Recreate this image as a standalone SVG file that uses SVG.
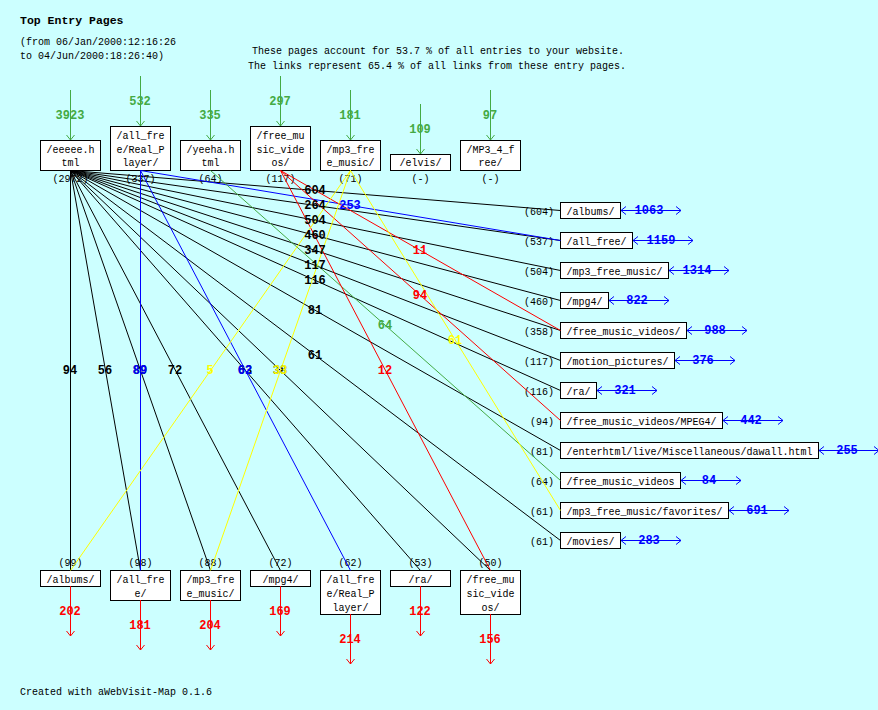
<svg xmlns="http://www.w3.org/2000/svg" width="878" height="710" viewBox="0 0 878 710">
<style>
text{font-family:"Liberation Mono","DejaVu Sans Mono",monospace;font-size:10px;fill:#000}
.t{font-size:11.5px;font-weight:bold}
.c{text-anchor:middle}
.e{text-anchor:end}
.b{font-size:12px;font-weight:bold;text-anchor:middle}
.box{fill:#fff;stroke:#000;stroke-width:1}
.ln{fill:none;stroke-width:1}
.k{stroke:#000}.bl{stroke:#0000ff}.g{stroke:#44aa44}.r{stroke:#ff0000}.y{stroke:#ffff00}
.fk{fill:#000}.fb{fill:#0000ff}.fg{fill:#44aa44}.fr{fill:#ff0000}.fy{fill:#ffff00}
</style>
<rect x="0" y="0" width="878" height="710" fill="#ccffff"/>
<text class="t" x="20" y="24">Top Entry Pages</text>
<text x="20" y="45">(from 06/Jan/2000:12:16:26</text>
<text x="20" y="59">to 04/Jun/2000:18:26:40)</text>
<text class="c" x="438" y="54">These pages account for 53.7 % of all entries to your website.</text>
<text class="c" x="437" y="69">The links represent 65.4 % of all links from these entry pages.</text>
<text x="20" y="695">Created with aWebVisit-Map 0.1.6</text>

<!-- top entry nodes -->
<g id="top-eeeee"><rect class="box" x="40.5" y="140.5" width="60" height="30"/><text class="c" x="70.5" y="153">/eeeee.h</text><text class="c" x="70.5" y="166">tml</text><text class="c" x="70.5" y="182">(2972)</text></g>
<g id="top-allfree-realplayer"><rect class="box" x="110.5" y="126.5" width="60" height="44"/><text class="c" x="140.5" y="139">/all_fre</text><text class="c" x="140.5" y="153">e/Real_P</text><text class="c" x="140.5" y="166">layer/</text><text class="c" x="140.5" y="182">(337)</text></g>
<g id="top-yeeha"><rect class="box" x="180.5" y="140.5" width="60" height="30"/><text class="c" x="210.5" y="153">/yeeha.h</text><text class="c" x="210.5" y="166">tml</text><text class="c" x="210.5" y="182">(64)</text></g>
<g id="top-freemusicvideos"><rect class="box" x="250.5" y="126.5" width="60" height="44"/><text class="c" x="280.5" y="139">/free_mu</text><text class="c" x="280.5" y="153">sic_vide</text><text class="c" x="280.5" y="166">os/</text><text class="c" x="280.5" y="182">(117)</text></g>
<g id="top-mp3freemusic"><rect class="box" x="320.5" y="140.5" width="60" height="30"/><text class="c" x="350.5" y="153">/mp3_fre</text><text class="c" x="350.5" y="166">e_music/</text><text class="c" x="350.5" y="182">(71)</text></g>
<g id="top-elvis"><rect class="box" x="390.5" y="154.5" width="60" height="16"/><text class="c" x="420.5" y="166">/elvis/</text><text class="c" x="420.5" y="182">(-)</text></g>
<g id="top-mp34free"><rect class="box" x="460.5" y="140.5" width="60" height="30"/><text class="c" x="490.5" y="153">/MP3_4_f</text><text class="c" x="490.5" y="166">ree/</text><text class="c" x="490.5" y="182">(-)</text></g>

<!-- right nodes -->
<g id="r-albums"><text class="e" x="554" y="214.5">(604)</text><rect class="box" x="560.5" y="202.5" width="60" height="16"/><text x="566.5" y="214.5">/albums/</text></g>
<g id="r-allfree"><text class="e" x="554" y="244.5">(537)</text><rect class="box" x="560.5" y="232.5" width="72" height="16"/><text x="566.5" y="244.5">/all_free/</text></g>
<g id="r-mp3freemusic"><text class="e" x="554" y="274.5">(504)</text><rect class="box" x="560.5" y="262.5" width="108" height="16"/><text x="566.5" y="274.5">/mp3_free_music/</text></g>
<g id="r-mpg4"><text class="e" x="554" y="304.5">(460)</text><rect class="box" x="560.5" y="292.5" width="48" height="16"/><text x="566.5" y="304.5">/mpg4/</text></g>
<g id="r-freemusicvideos"><text class="e" x="554" y="334.5">(358)</text><rect class="box" x="560.5" y="322.5" width="126" height="16"/><text x="566.5" y="334.5">/free_music_videos/</text></g>
<g id="r-motionpictures"><text class="e" x="554" y="364.5">(117)</text><rect class="box" x="560.5" y="352.5" width="114" height="16"/><text x="566.5" y="364.5">/motion_pictures/</text></g>
<g id="r-ra"><text class="e" x="554" y="394.5">(116)</text><rect class="box" x="560.5" y="382.5" width="36" height="16"/><text x="566.5" y="394.5">/ra/</text></g>
<g id="r-mpeg4"><text class="e" x="554" y="424.5">(94)</text><rect class="box" x="560.5" y="412.5" width="162" height="16"/><text x="566.5" y="424.5">/free_music_videos/MPEG4/</text></g>
<g id="r-dawall"><text class="e" x="554" y="454.5">(81)</text><rect class="box" x="560.5" y="442.5" width="258" height="16"/><text x="566.5" y="454.5">/enterhtml/live/Miscellaneous/dawall.html</text></g>
<g id="r-freemusicvideos2"><text class="e" x="554" y="484.5">(64)</text><rect class="box" x="560.5" y="472.5" width="120" height="16"/><text x="566.5" y="484.5">/free_music_videos</text></g>
<g id="r-favorites"><text class="e" x="554" y="514.5">(61)</text><rect class="box" x="560.5" y="502.5" width="168" height="16"/><text x="566.5" y="514.5">/mp3_free_music/favorites/</text></g>
<g id="r-movies"><text class="e" x="554" y="544.5">(61)</text><rect class="box" x="560.5" y="532.5" width="60" height="16"/><text x="566.5" y="544.5">/movies/</text></g>

<!-- bottom nodes -->
<g id="b-albums"><text class="c" x="70.5" y="566">(99)</text><rect class="box" x="40.5" y="570.5" width="60" height="16"/><text class="c" x="70.5" y="583">/albums/</text></g>
<g id="b-allfree"><text class="c" x="140.5" y="566">(98)</text><rect class="box" x="110.5" y="570.5" width="60" height="30"/><text class="c" x="140.5" y="583">/all_fre</text><text class="c" x="140.5" y="597">e/</text></g>
<g id="b-mp3freemusic"><text class="c" x="210.5" y="566">(88)</text><rect class="box" x="180.5" y="570.5" width="60" height="30"/><text class="c" x="210.5" y="583">/mp3_fre</text><text class="c" x="210.5" y="597">e_music/</text></g>
<g id="b-mpg4"><text class="c" x="280.5" y="566">(72)</text><rect class="box" x="250.5" y="570.5" width="60" height="16"/><text class="c" x="280.5" y="583">/mpg4/</text></g>
<g id="b-allfree-realplayer"><text class="c" x="350.5" y="566">(62)</text><rect class="box" x="320.5" y="570.5" width="60" height="44"/><text class="c" x="350.5" y="583">/all_fre</text><text class="c" x="350.5" y="597">e/Real_P</text><text class="c" x="350.5" y="611">layer/</text></g>
<g id="b-ra"><text class="c" x="420.5" y="566">(53)</text><rect class="box" x="390.5" y="570.5" width="60" height="16"/><text class="c" x="420.5" y="583">/ra/</text></g>
<g id="b-freemusicvideos"><text class="c" x="490.5" y="566">(50)</text><rect class="box" x="460.5" y="570.5" width="60" height="44"/><text class="c" x="490.5" y="583">/free_mu</text><text class="c" x="490.5" y="597">sic_vide</text><text class="c" x="490.5" y="611">os/</text></g>

<!-- connectors -->
<g id="connectors">
<g class="ln k">
<path d="M70.5,170.5L560.5,210.5M70.5,170.5L560.5,240.5M70.5,170.5L560.5,270.5M70.5,170.5L560.5,300.5M70.5,170.5L560.5,330.5M70.5,170.5L560.5,360.5M70.5,170.5L560.5,390.5M70.5,170.5L560.5,450.5M70.5,170.5L560.5,540.5"/>
<path d="M70.5,170.5L70.5,570.5M70.5,170.5L140.5,570.5M70.5,170.5L210.5,570.5M70.5,170.5L280.5,570.5M70.5,170.5L420.5,570.5M70.5,170.5L490.5,570.5"/>
</g>
<path class="ln bl" d="M140.5,170.5L560.5,240.5M140.5,170.5L140.5,570.5M140.5,170.5L350.5,570.5"/>
<path class="ln g" d="M210.5,170.5L560.5,480.5"/>
<path class="ln r" d="M280.5,170.5L560.5,330.5M280.5,170.5L560.5,420.5M280.5,170.5L490.5,570.5"/>
<path class="ln y" d="M350.5,170.5L70.5,570.5M350.5,170.5L210.5,570.5M350.5,170.5L560.5,510.5"/>

<!-- link labels -->
<g>
<text class="b fk" x="315" y="194">604</text>
<text class="b fk" x="315" y="209">264</text>
<text class="b fk" x="315" y="224">504</text>
<text class="b fk" x="315" y="239">460</text>
<text class="b fk" x="315" y="254">347</text>
<text class="b fk" x="315" y="269">117</text>
<text class="b fk" x="315" y="284">116</text>
<text class="b fk" x="315" y="314">81</text>
<text class="b fk" x="315" y="359">61</text>
<text class="b fk" x="70" y="374">94</text>
<text class="b fk" x="105" y="374">56</text>
<text class="b fk" x="140" y="374">89</text>
<text class="b fk" x="175" y="374">72</text>
<text class="b fk" x="245" y="374">63</text>
<text class="b fk" x="280" y="374">38</text>
<text class="b fb" x="350" y="209">253</text>
<text class="b fb" x="140" y="374">89</text>
<text class="b fb" x="245" y="374">62</text>
<text class="b fg" x="385" y="329">64</text>
<text class="b fr" x="420" y="254">11</text>
<text class="b fr" x="420" y="299">94</text>
<text class="b fr" x="385" y="374">12</text>
<text class="b fy" x="210" y="374">5</text>
<text class="b fy" x="280" y="374">33</text>
<text class="b fy" x="455" y="344">61</text>
</g>

<!-- entry arrows (green) -->
<path class="ln g" d="M70.5,90L70.5,140M66.5,135L70.5,140L74.5,135 M140.5,76L140.5,126M136.5,121L140.5,126L144.5,121 M210.5,90L210.5,140M206.5,135L210.5,140L214.5,135 M280.5,76L280.5,126M276.5,121L280.5,126L284.5,121 M350.5,90L350.5,140M346.5,135L350.5,140L354.5,135 M420.5,104L420.5,154M416.5,149L420.5,154L424.5,149 M490.5,90L490.5,140M486.5,135L490.5,140L494.5,135"/>
<text class="b fg" x="70" y="119">3923</text>
<text class="b fg" x="140" y="105">532</text>
<text class="b fg" x="210" y="119">335</text>
<text class="b fg" x="280" y="105">297</text>
<text class="b fg" x="350" y="119">181</text>
<text class="b fg" x="420" y="133">109</text>
<text class="b fg" x="490" y="119">97</text>

<!-- exit arrows (red) -->
<path class="ln r" d="M70.5,586L70.5,636M66.5,631L70.5,636L74.5,631 M140.5,600L140.5,650M136.5,645L140.5,650L144.5,645 M210.5,600L210.5,650M206.5,645L210.5,650L214.5,645 M280.5,586L280.5,636M276.5,631L280.5,636L284.5,631 M350.5,614L350.5,664M346.5,659L350.5,664L354.5,659 M420.5,586L420.5,636M416.5,631L420.5,636L424.5,631 M490.5,614L490.5,664M486.5,659L490.5,664L494.5,659"/>
<text class="b fr" x="70" y="615">202</text>
<text class="b fr" x="140" y="629">181</text>
<text class="b fr" x="210" y="629">204</text>
<text class="b fr" x="280" y="615">169</text>
<text class="b fr" x="350" y="643">214</text>
<text class="b fr" x="420" y="615">122</text>
<text class="b fr" x="490" y="643">156</text>

<!-- outgoing arrows (blue) -->
<path class="ln bl" d="M621,210.5L681,210.5M626,206.5L621,210.5L626,214.5M676,206.5L681,210.5L676,214.5 M633,240.5L693,240.5M638,236.5L633,240.5L638,244.5M688,236.5L693,240.5L688,244.5 M669,270.5L729,270.5M674,266.5L669,270.5L674,274.5M724,266.5L729,270.5L724,274.5 M609,300.5L669,300.5M614,296.5L609,300.5L614,304.5M664,296.5L669,300.5L664,304.5 M687,330.5L747,330.5M692,326.5L687,330.5L692,334.5M742,326.5L747,330.5L742,334.5 M675,360.5L735,360.5M680,356.5L675,360.5L680,364.5M730,356.5L735,360.5L730,364.5 M597,390.5L657,390.5M602,386.5L597,390.5L602,394.5M652,386.5L657,390.5L652,394.5 M723,420.5L783,420.5M728,416.5L723,420.5L728,424.5M778,416.5L783,420.5L778,424.5 M819,450.5L879,450.5M824,446.5L819,450.5L824,454.5M874,446.5L879,450.5L874,454.5 M681,480.5L741,480.5M686,476.5L681,480.5L686,484.5M736,476.5L741,480.5L736,484.5 M729,510.5L789,510.5M734,506.5L729,510.5L734,514.5M784,506.5L789,510.5L784,514.5 M621,540.5L681,540.5M626,536.5L621,540.5L626,544.5M676,536.5L681,540.5L676,544.5"/>
<text class="b fb" x="649" y="214">1063</text>
<text class="b fb" x="661" y="244">1159</text>
<text class="b fb" x="697" y="274">1314</text>
<text class="b fb" x="637" y="304">822</text>
<text class="b fb" x="715" y="334">988</text>
<text class="b fb" x="703" y="364">376</text>
<text class="b fb" x="625" y="394">321</text>
<text class="b fb" x="751" y="424">442</text>
<text class="b fb" x="847" y="454">255</text>
<text class="b fb" x="709" y="484">84</text>
<text class="b fb" x="757" y="514">691</text>
<text class="b fb" x="649" y="544">283</text>
</g>
</svg>
